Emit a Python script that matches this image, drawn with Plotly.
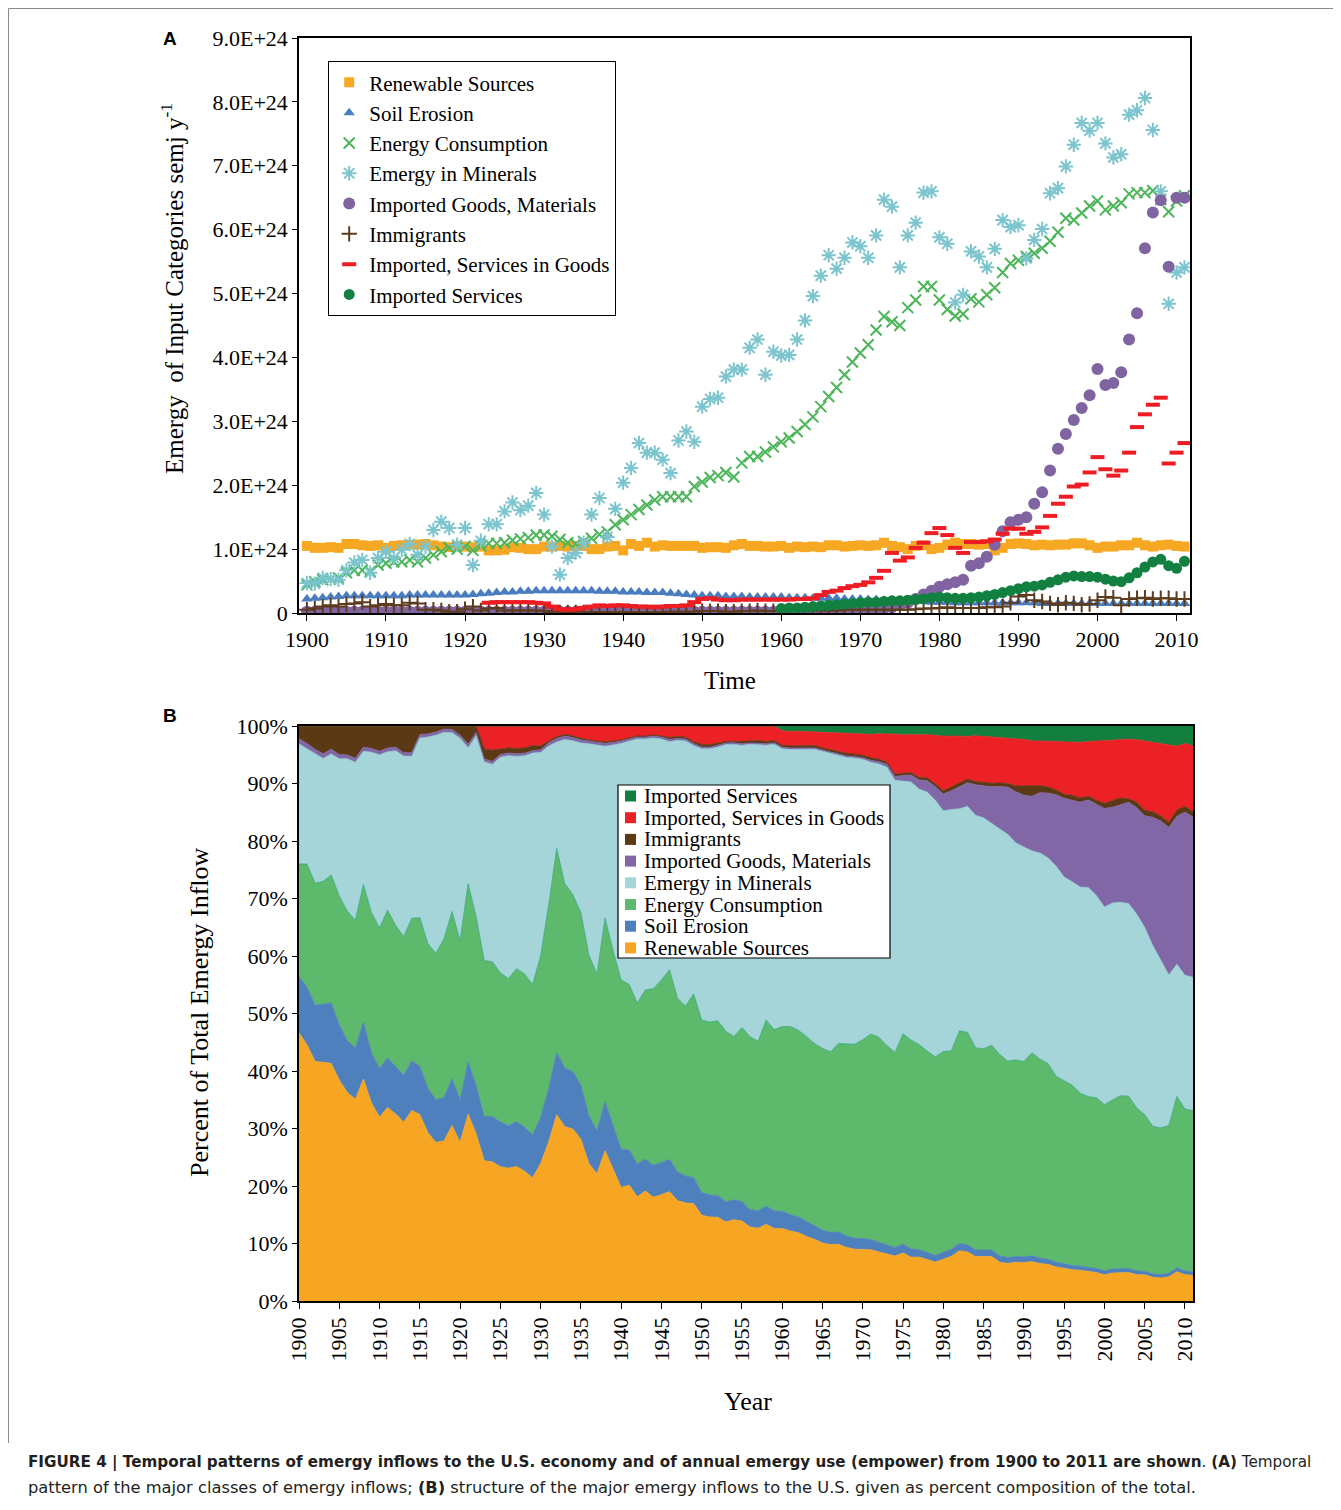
import plotly.graph_objects as go

# page offset (browser body margin) compensation
OFF = 8
W, H = 1341 - OFF, 1510 - OFF

years = list(range(1900, 2012))

renewable = [1.05, 1.02, 1.02, 1.03, 1.02, 1.08, 1.08, 1.06, 1.05, 1.06,
             1.02, 1.05, 1.06, 1.07, 1.07, 1.08, 1.06, 1.04, 1.03, 1.05,
             1.04, 1.03, 1.04, 0.98, 0.98, 0.99, 1.03, 1.02, 1.00, 1.00,
             1.04, 1.04, 1.05, 1.04, 1.05, 1.05, 1.00, 1.00, 1.04, 1.05,
             0.98, 1.08, 1.05, 1.10, 1.04, 1.06, 1.05, 1.05, 1.05, 1.05,
             1.02, 1.03, 1.03, 1.02, 1.06, 1.08, 1.05, 1.05, 1.04, 1.04,
             1.05, 1.02, 1.04, 1.03, 1.04, 1.03, 1.06, 1.06, 1.04, 1.05,
             1.06, 1.05, 1.06, 1.10, 1.05, 1.03, 1.00, 1.05, 1.06, 1.00,
             1.02, 1.07, 1.10, 1.08, 1.08, 1.07, 1.08, 0.98, 1.02, 1.08,
             1.09, 1.08, 1.06, 1.07, 1.06, 1.07, 1.07, 1.09, 1.09, 1.06,
             1.02, 1.04, 1.04, 1.06, 1.06, 1.10, 1.06, 1.04, 1.06, 1.07,
             1.05, 1.04]

soil_erosion = [0.22, 0.23, 0.24, 0.25, 0.26, 0.27, 0.27, 0.27, 0.27, 0.27,
                0.27, 0.27, 0.27, 0.28, 0.28, 0.28, 0.28, 0.28, 0.28, 0.28,
                0.28, 0.29, 0.30, 0.31, 0.32, 0.33, 0.33, 0.34, 0.34, 0.35,
                0.35, 0.35, 0.35, 0.35, 0.35, 0.35, 0.35, 0.34, 0.34, 0.34,
                0.33, 0.33, 0.33, 0.32, 0.32, 0.32, 0.31, 0.30, 0.29, 0.28,
                0.27, 0.27, 0.27, 0.26, 0.26, 0.26, 0.25, 0.25, 0.25, 0.25,
                0.25, 0.24, 0.24, 0.24, 0.23, 0.23, 0.23, 0.23, 0.22, 0.22,
                0.22, 0.21, 0.21, 0.20, 0.20, 0.19, 0.19, 0.18, 0.18, 0.17,
                0.17, 0.17, 0.16, 0.16, 0.16, 0.16, 0.16, 0.16, 0.16, 0.16,
                0.16, 0.16, 0.16, 0.15, 0.15, 0.15, 0.15, 0.15, 0.15, 0.15,
                0.15, 0.15, 0.15, 0.15, 0.15, 0.15, 0.15, 0.15, 0.15, 0.15,
                0.15, 0.15]

energy_consumption = [0.44, 0.49, 0.52, 0.53, 0.55, 0.63, 0.67, 0.67, 0.65, 0.75,
                      0.78, 0.80, 0.80, 0.83, 0.80, 0.86, 0.91, 0.96, 1.02, 1.00,
                      1.04, 0.98, 1.05, 1.09, 1.09, 1.10, 1.14, 1.16, 1.18, 1.22,
                      1.22, 1.20, 1.15, 1.10, 1.08, 1.12, 1.17, 1.23, 1.27, 1.38,
                      1.46, 1.54, 1.62, 1.69, 1.77, 1.82, 1.82, 1.82, 1.82, 1.98,
                      2.05, 2.12, 2.15, 2.20, 2.13, 2.35, 2.45, 2.45, 2.52, 2.60,
                      2.68, 2.74, 2.84, 2.95, 3.07, 3.23, 3.39, 3.53, 3.73, 3.93,
                      4.07, 4.20, 4.43, 4.64, 4.56, 4.50, 4.78, 4.90, 5.11, 5.11,
                      4.90, 4.75, 4.65, 4.68, 4.92, 4.87, 4.98, 5.09, 5.33, 5.47,
                      5.52, 5.58, 5.63, 5.71, 5.82, 5.96, 6.18, 6.15, 6.26, 6.37,
                      6.45, 6.31, 6.37, 6.42, 6.56, 6.58, 6.58, 6.61, 6.47, 6.28,
                      6.45, 6.53]

emergy_minerals = [0.47, 0.46, 0.55, 0.53, 0.52, 0.67, 0.79, 0.83, 0.63, 0.86,
                   0.96, 0.86, 0.99, 1.08, 0.91, 1.04, 1.30, 1.43, 1.33, 1.07,
                   1.33, 0.75, 1.13, 1.39, 1.39, 1.59, 1.73, 1.61, 1.68, 1.88,
                   1.54, 1.04, 0.60, 0.86, 0.94, 1.10, 1.54, 1.80, 1.19, 1.63,
                   2.04, 2.27, 2.66, 2.51, 2.51, 2.40, 2.19, 2.70, 2.84, 2.68,
                   3.23, 3.35, 3.37, 3.70, 3.81, 3.81, 4.15, 4.28, 3.73, 4.09,
                   4.03, 4.04, 4.28, 4.58, 4.96, 5.28, 5.60, 5.39, 5.56, 5.80,
                   5.74, 5.56, 5.91, 6.47, 6.36, 5.41, 5.91, 6.11, 6.58, 6.60,
                   5.88, 5.78, 4.86, 4.98, 5.66, 5.58, 5.41, 5.70, 6.15, 6.04,
                   6.07, 5.55, 5.84, 6.01, 6.57, 6.65, 6.99, 7.33, 7.67, 7.55,
                   7.67, 7.35, 7.13, 7.18, 7.80, 7.87, 8.06, 7.56, 6.60, 4.84,
                   5.33, 5.41]

imported_goods = [0.02, 0.02, 0.02, 0.02, 0.02, 0.02, 0.02, 0.02, 0.02, 0.02,
                  0.02, 0.02, 0.02, 0.02, 0.02, 0.02, 0.02, 0.02, 0.02, 0.02,
                  0.02, 0.02, 0.02, 0.02, 0.02, 0.02, 0.02, 0.02, 0.02, 0.02,
                  0.02, 0.02, 0.02, 0.02, 0.02, 0.02, 0.02, 0.02, 0.02, 0.02,
                  0.02, 0.02, 0.02, 0.02, 0.02, 0.02, 0.02, 0.02, 0.02, 0.02,
                  0.02, 0.02, 0.02, 0.02, 0.02, 0.02, 0.02, 0.02, 0.02, 0.02,
                  0.02, 0.02, 0.02, 0.02, 0.02, 0.02, 0.03, 0.03, 0.03, 0.03,
                  0.03, 0.04, 0.05, 0.07, 0.09, 0.12, 0.16, 0.22, 0.29, 0.35,
                  0.41, 0.45, 0.48, 0.52, 0.74, 0.78, 0.88, 1.07, 1.28, 1.42,
                  1.46, 1.50, 1.71, 1.89, 2.23, 2.57, 2.80, 3.02, 3.21, 3.41,
                  3.82, 3.57, 3.60, 3.77, 4.28, 4.69, 5.71, 6.27, 6.46, 5.42,
                  6.50, 6.50]

immigrants = [0.05, 0.07, 0.10, 0.12, 0.10, 0.14, 0.15, 0.17, 0.10, 0.12,
              0.14, 0.12, 0.12, 0.16, 0.15, 0.05, 0.05, 0.04, 0.02, 0.02,
              0.06, 0.10, 0.04, 0.07, 0.08, 0.04, 0.04, 0.04, 0.04, 0.04,
              0.03, 0.01, 0.01, 0.01, 0.01, 0.01, 0.01, 0.01, 0.01, 0.01,
              0.01, 0.01, 0.01, 0.01, 0.01, 0.01, 0.02, 0.02, 0.02, 0.02,
              0.03, 0.03, 0.03, 0.02, 0.02, 0.03, 0.03, 0.04, 0.03, 0.03,
              0.03, 0.03, 0.03, 0.04, 0.04, 0.04, 0.04, 0.04, 0.05, 0.05,
              0.05, 0.05, 0.05, 0.05, 0.05, 0.05, 0.05, 0.06, 0.07, 0.07,
              0.08, 0.09, 0.08, 0.08, 0.08, 0.08, 0.09, 0.09, 0.10, 0.16,
              0.26, 0.28, 0.20, 0.18, 0.15, 0.13, 0.16, 0.15, 0.13, 0.14,
              0.20, 0.25, 0.24, 0.12, 0.22, 0.23, 0.24, 0.22, 0.23, 0.23,
              0.22, 0.22]

services_in_goods = [0, 0, 0, 0, 0, 0, 0, 0, 0, 0,
                     0, 0, 0, 0, 0, 0, 0, 0, 0, 0,
                     0, 0, 0, 0.16, 0.17, 0.17, 0.17, 0.17, 0.17, 0.16,
                     0.15, 0.10, 0.06, 0.05, 0.06, 0.08, 0.10, 0.12, 0.11, 0.12,
                     0.12, 0.11, 0.10, 0.10, 0.09, 0.10, 0.11, 0.11, 0.12, 0.17,
                     0.22, 0.23, 0.21, 0.20, 0.20, 0.21, 0.21, 0.21, 0.21, 0.21,
                     0.21, 0.21, 0.22, 0.22, 0.23, 0.28, 0.33, 0.35, 0.39, 0.42,
                     0.44, 0.48, 0.55, 0.66, 0.94, 0.82, 0.87, 1.02, 1.10, 1.25,
                     1.33, 1.22, 1.02, 0.94, 1.11, 1.11, 1.12, 1.15, 1.24, 1.32,
                     1.32, 1.24, 1.27, 1.34, 1.52, 1.71, 1.82, 1.98, 2.01, 2.20,
                     2.44, 2.25, 2.15, 2.23, 2.51, 2.91, 3.11, 3.26, 3.37, 2.34,
                     2.51, 2.66]

imported_services = [0, 0, 0, 0, 0, 0, 0, 0, 0, 0,
                     0, 0, 0, 0, 0, 0, 0, 0, 0, 0,
                     0, 0, 0, 0, 0, 0, 0, 0, 0, 0,
                     0, 0, 0, 0, 0, 0, 0, 0, 0, 0,
                     0, 0, 0, 0, 0, 0, 0, 0, 0, 0,
                     0, 0, 0, 0, 0, 0, 0, 0, 0, 0,
                     0.07, 0.08, 0.08, 0.09, 0.10, 0.11, 0.12, 0.13, 0.14, 0.15,
                     0.16, 0.17, 0.17, 0.18, 0.19, 0.19, 0.20, 0.21, 0.22, 0.24,
                     0.25, 0.24, 0.23, 0.23, 0.24, 0.25, 0.27, 0.29, 0.32, 0.35,
                     0.38, 0.41, 0.42, 0.44, 0.48, 0.52, 0.56, 0.58, 0.57, 0.57,
                     0.56, 0.53, 0.50, 0.49, 0.55, 0.63, 0.72, 0.80, 0.84, 0.74,
                     0.70, 0.81]

names = ["Renewable Sources", "Soil Erosion", "Energy Consumption", "Emergy in Minerals",
         "Imported Goods, Materials", "Immigrants", "Imported, Services in Goods",
         "Imported Services"]
series = [renewable, soil_erosion, energy_consumption, emergy_minerals,
          imported_goods, immigrants, services_in_goods, imported_services]

top_ticks = [i * 1e24 for i in range(10)]
top_ticktext = ["0"] + ["%d.0E+24" % i for i in range(1, 10)]
pct_ticks = list(range(0, 101, 10))
pct_ticktext = ["%d%%" % v for v in pct_ticks]
decade_ticks = list(range(1900, 2011, 10))
five_ticks = list(range(1900, 2011, 5))

marker_styles = [
    dict(symbol="square", size=10, color="#F7A823"),
    dict(symbol="triangle-up", size=10, color="#4A7DC0"),
    dict(symbol="x-thin-open", size=11, color="#4DB55A", line=dict(width=2, color="#4DB55A")),
    dict(symbol="asterisk-open", size=12, color="#7CC5CE", line=dict(width=2, color="#7CC5CE")),
    dict(symbol="circle", size=12, color="#8064A2"),
    dict(symbol="cross-thin-open", size=11, color="#5C3B1E", line=dict(width=2, color="#5C3B1E")),
    dict(symbol="line-ew-open", size=10, color="#EE1D24", line=dict(width=4, color="#EE1D24")),
    dict(symbol="circle", size=11, color="#118040"),
]
fill_colors = ["#F6A623", "#4F80BE", "#5DB96B", "#A5D4D9", "#8167A5", "#5B3915", "#EC2126", "#137F3E"]
edge_colors = ["#F6A623", "#4F80BE", "#2FA77A", "#8CC8CF", "#8167A5", "#5B3915", "#EC2126", "#137F3E"]

SERIF = "Liberation Serif"
SANS = "Liberation Sans"
CAP = "DejaVu Sans"

fig = go.Figure()

# Panel A: scatter markers
for i, (nm, vals) in enumerate(zip(names, series)):
    started = False
    yv = []
    for v in vals:
        if v != 0:
            started = True
        yv.append(v * 1e24 if (started or i < 6) else None)
    fig.add_trace(go.Scatter(x=years, y=yv, name=nm, mode="markers",
                             marker=marker_styles[i], xaxis="x", yaxis="y",
                             legend="legend"))

# Panel B: percent stacked area
for i, (nm, vals) in enumerate(zip(names, series)):
    fig.add_trace(go.Scatter(x=years, y=vals, name=nm, mode="lines",
                             stackgroup="pct", groupnorm="percent",
                             line=dict(width=0.8, color=edge_colors[i]),
                             fillcolor=fill_colors[i], xaxis="x2", yaxis="y2",
                             showlegend=False))


def px(x):
    return (x - OFF) / W


def py(y):
    return 1 - (y - OFF) / H


axis_common = dict(showline=True, linecolor="black", linewidth=1.5, mirror=True,
                   ticks="outside", tickcolor="black", tickwidth=1.2,
                   showgrid=False, zeroline=False, automargin=False,
                   tickfont=dict(family=SERIF, size=22, color="black"))

annotations = []
shapes = []


def note(x, y, text, size, family=SERIF, angle=0, xanchor="center", color="black"):
    annotations.append(dict(x=px(x), y=py(y), xref="paper", yref="paper", showarrow=False,
                            xanchor=xanchor, yanchor="middle", align="left", text=text,
                            textangle=angle, font=dict(family=family, size=size, color=color)))


# axis titles
note(172, 289, "Emergy  of Input Categories semj y<sup>-1</sup>", 25, angle=-90)
note(730, 681, "Time", 25)
note(199, 1012, "Percent of Total Emergy Inflow", 26, angle=-90)
note(748, 1401, "Year", 26)

# panel letters
note(170, 39, "<b>A</b>", 19, family=SANS)
note(170, 715, "<b>B</b>", 19, family=SANS)

# caption
note(26, 1462, "<b>FIGURE 4 | Temporal patterns of emergy inflows to the U.S. economy and of annual emergy use (empower) from 1900 to 2011 are shown</b>. <b>(A)</b> Temporal",
     15.2, family=CAP, xanchor="left", color="#231F20")
note(26, 1487, "pattern of the major classes of emergy inflows; <b>(B)</b> structure of the major emergy inflows to the U.S. given as percent composition of the total.",
     16.3, family=CAP, xanchor="left", color="#231F20")

# frame lines
shapes.append(dict(type="line", xref="paper", yref="paper", x0=px(8.5), x1=px(8.5), y0=py(8.5), y1=py(1443),
                   line=dict(color="#8a8a8a", width=1)))
shapes.append(dict(type="line", xref="paper", yref="paper", x0=px(8.5), x1=1, y0=py(8.5), y1=py(8.5),
                   line=dict(color="#8a8a8a", width=1)))

# legend of panel B
lx0, lx1, ly0, ly1 = 618, 890, 785, 958
shapes.append(dict(type="rect", xref="paper", yref="paper", x0=px(lx0), x1=px(lx1), y0=py(ly0), y1=py(ly1),
                   line=dict(color="black", width=1.2), fillcolor="white", layer="above"))
order = list(range(len(names)))[::-1]
for row, idx in enumerate(order):
    yc = 796 + row * 21.7
    shapes.append(dict(type="rect", xref="paper", yref="paper", x0=px(625), x1=px(636),
                       y0=py(yc - 5.5), y1=py(yc + 5.5), line=dict(width=0),
                       fillcolor=fill_colors[idx], layer="above"))
    note(642, yc, names[idx], 21, xanchor="left")

fig.update_layout(
    width=W, height=H, autosize=False,
    margin=dict(l=0, r=0, t=0, b=0, pad=0),
    paper_bgcolor="white", plot_bgcolor="white",
    font=dict(family=SERIF, color="black"),
    xaxis=dict(domain=[px(299), px(1190)], anchor="y", range=[1899, 2011.7],
               tickmode="array", tickvals=decade_ticks, ticklen=6, **axis_common),
    yaxis=dict(domain=[py(613), py(38)], anchor="x", range=[0, 9e24],
               tickmode="array", tickvals=top_ticks, ticktext=top_ticktext, ticklen=5, **axis_common),
    xaxis2=dict(domain=[px(299), px(1193)], anchor="y2", range=[1900, 2011],
                tickmode="array", tickvals=five_ticks, tickangle=-90, ticklen=6, **axis_common),
    yaxis2=dict(domain=[py(1301), py(726)], anchor="x2", range=[0, 100],
                tickmode="array", tickvals=pct_ticks, ticktext=pct_ticktext, ticklen=5, **axis_common),
    legend=dict(x=px(328), y=py(61), xanchor="left", yanchor="top", traceorder="normal",
                bordercolor="black", borderwidth=1.2, bgcolor="white",
                font=dict(family=SERIF, size=21, color="black"),
                itemwidth=30, tracegroupgap=0),
    annotations=annotations,
    shapes=shapes,
)

fig.write_html("out.html")
